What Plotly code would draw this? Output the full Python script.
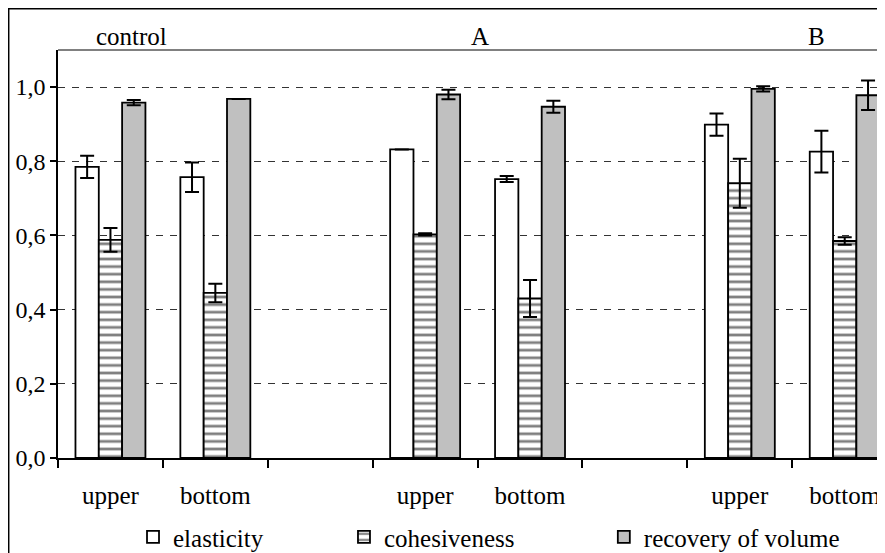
import plotly.graph_objects as go

# ---- data ----
positions = [0, 1, 3, 4, 6, 7]
tick_labels = ["upper", "bottom", "upper", "bottom", "upper", "bottom"]
group_labels = ["control", "A", "B"]
group_label_pos = [0.205, 3.52, 6.735]

elasticity = [0.785, 0.757, 0.832, 0.752, 0.899, 0.826]
elasticity_err = [0.03, 0.04, None, 0.008, 0.03, 0.056]
cohesiveness = [0.588, 0.445, 0.603, 0.43, 0.741, 0.585]
cohesiveness_err = [0.032, 0.025, 0.003, 0.05, 0.066, 0.01]
recovery = [0.958, 0.968, 0.98, 0.947, 0.995, 0.978]
recovery_err = [0.007, None, 0.013, 0.016, 0.007, 0.04]
boundaries = [-0.5, 0.5, 1.5, 2.5, 3.5, 4.5, 5.5, 6.5, 7.5]

FONT = "Liberation Serif, 'Times New Roman', Times, serif"
FS = 25
err_style = dict(type="data", visible=True, color="black", thickness=2, width=7)

fig = go.Figure()
fig.add_trace(go.Bar(
    name="elasticity", x=positions, y=elasticity, legend="legend",
    error_y=dict(array=elasticity_err, **err_style),
    marker=dict(color="white", line=dict(color="black", width=1.8)),
))
fig.add_trace(go.Bar(
    name="cohesiveness", x=positions, y=cohesiveness, legend="legend2",
    error_y=dict(array=cohesiveness_err, **err_style),
    marker=dict(color="white", line=dict(color="black", width=1.8),
                pattern=dict(shape="-", size=7.6, solidity=0.36,
                             fgcolor="black", bgcolor="white", fillmode="overlay")),
))
fig.add_trace(go.Bar(
    name="recovery of volume", x=positions, y=recovery, legend="legend3",
    error_y=dict(array=recovery_err, **err_style),
    marker=dict(color="#C0C0C0", line=dict(color="black", width=1.8)),
))

for lbl, xp in zip(group_labels, group_label_pos):
    fig.add_annotation(text=lbl, x=xp, xref="x", y=1.032, yref="paper",
                       yanchor="middle", showarrow=False,
                       font=dict(family=FONT, size=FS, color="black"))

# top frame line of plot area (grey)
fig.add_shape(type="line", xref="paper", yref="paper", x0=0, x1=1.02, y0=1, y1=1,
              line=dict(color="#808080", width=2))
# outer chart border (cropped at right and bottom)
fig.add_shape(type="rect", xref="paper", yref="paper", x0=-0.0596, x1=1.05,
              y0=-0.4, y1=1.1011, line=dict(color="black", width=1.5))

leg_common = dict(orientation="h", xanchor="left", y=-0.194, yanchor="middle",
                  font=dict(family=FONT, size=FS, color="black"),
                  bgcolor="rgba(0,0,0,0)", itemclick=False, itemdoubleclick=False)

fig.update_layout(
    width=877, height=545,
    margin=dict(l=50, r=0, t=42, b=95, autoexpand=False),
    paper_bgcolor="white", plot_bgcolor="white",
    barmode="group", bargap=0.333, bargroupgap=0,
    separators=", ",
    font=dict(family=FONT, size=FS, color="black"),
    showlegend=True,
    legend=dict(x=0.0907, **leg_common),
    legend2=dict(x=0.3458, **leg_common),
    legend3=dict(x=0.660, **leg_common),
    xaxis=dict(range=[-0.5, 7.384], tickmode="array", tickvals=positions,
               ticktext=tick_labels, ticks="", showgrid=False, zeroline=False,
               showline=True, linecolor="black", linewidth=1.5,
               ticklabelstandoff=14,
               minor=dict(tickmode="array", tickvals=boundaries, ticks="outside",
                          ticklen=8, tickcolor="black", tickwidth=1.5, showgrid=False)),
    yaxis=dict(range=[0, 1.1], tickmode="array",
               tickvals=[0, 0.2, 0.4, 0.6, 0.8, 1.0], tickformat=".1f",
               tickfont=dict(family=FONT, size=24, color="black"),
               ticks="outside", ticklen=6, tickcolor="black", tickwidth=1.5,
               showline=True, linecolor="black", linewidth=1.5,
               showgrid=True, gridcolor="#333333", gridwidth=1, griddash="7px,7px",
               zeroline=False),
)

fig.write_html("out.html")
